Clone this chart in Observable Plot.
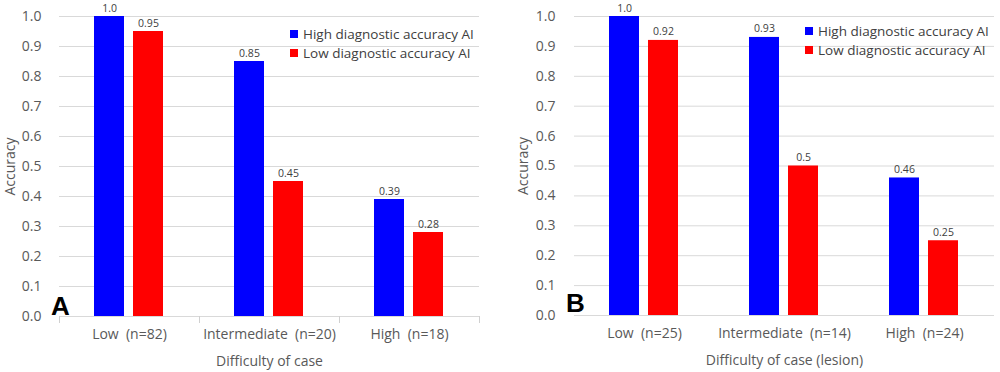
<!DOCTYPE html>
<html>
<head>
<meta charset="utf-8">
<script src="https://cdn.jsdelivr.net/npm/d3@7"></script>
<script src="https://cdn.jsdelivr.net/npm/@observablehq/plot@0.6"></script>
<style>
  body { margin: 0; background: #fff; }
  #row { display: flex; width: 1000px; height: 372px; }
  .panel { position: relative; width: 500px; height: 372px; }
  .panel svg text { white-space: pre; }
  .legend { position: absolute; font-family: "Open Sans", sans-serif; font-size: 13.5px; color: #404040; }
  .legend div { display: flex; align-items: center; height: 19px; white-space: nowrap; }
  .legend span.sw { display: inline-block; width: 8px; height: 8px; margin-right: 5px; }
  .letter { position: absolute; font-family: "Liberation Sans", Arial, sans-serif; font-weight: bold; font-size: 26px; color: #000; line-height: 1; }
</style>
</head>
<body>
<div id="row"></div>
<script>
const series = ["High diagnostic accuracy AI", "Low diagnostic accuracy AI"];
const colors = ["#0000ff", "#ff0000"];

const categoriesA = ["Low  (n=82)", "Intermediate  (n=20)", "High  (n=18)"];
const highA = [1.0, 0.85, 0.39];
const lowA = [0.95, 0.45, 0.28];

const categoriesB = ["Low  (n=25)", "Intermediate  (n=14)", "High  (n=24)"];
const highB = [1.0, 0.93, 0.46];
const lowB = [0.92, 0.5, 0.25];

const yTicks = [0, 0.1, 0.2, 0.3, 0.4, 0.5, 0.6, 0.7, 0.8, 0.9, 1.0];

function rows(categories, high, low) {
  const out = [];
  categories.forEach((c, i) => {
    out.push({cat: c, series: series[0], value: high[i]});
    out.push({cat: c, series: series[1], value: low[i]});
  });
  return out;
}
const fmt = v => v === 1 ? "1.0" : String(v);

function makePanel(cfg) {
  const data = rows(cfg.categories, cfg.high, cfg.low);
  const marks = [
    Plot.gridY(yTicks, {stroke: "#d9d9d9", strokeOpacity: 1}),
    Plot.barY(data, {fx: "cat", x: "series", y: "value", fill: "series"}),
    Plot.text(data, {fx: "cat", x: "series", y: "value", text: d => fmt(d.value), lineAnchor: "bottom", dy: -5, fontSize: 10.5, fill: "#404040"})
  ];
  if (cfg.ticks) {
    marks.push(Plot.frame({anchor: "left", stroke: "#d0d0d0", insetTop: 300, insetBottom: -6}));
    marks.push(Plot.frame({anchor: "right", stroke: "#d0d0d0", insetTop: 300, insetBottom: -6}));
  }
  const plot = Plot.plot({
    width: 500,
    height: 372,
    marginTop: 16,
    marginBottom: cfg.marginBottom,
    marginLeft: cfg.marginLeft,
    marginRight: cfg.marginRight,
    style: {fontFamily: "Open Sans, sans-serif", fontSize: "14px", color: "#595959", background: "#fff"},
    fx: {domain: cfg.categories, padding: 0, axis: "bottom", tickSize: 0, tickPadding: 13, label: cfg.xlabel, labelAnchor: "center", labelOffset: 49},
    x: {domain: series, axis: null, paddingInner: 0.225, paddingOuter: 0.875},
    y: {domain: [0, 1], ticks: yTicks, tickFormat: ".1f", tickSize: 0, tickPadding: cfg.tickPadding, label: "Accuracy", labelAnchor: "center", labelArrow: "none", labelOffset: cfg.labelOffset},
    color: {domain: series, range: colors},
    marks
  });
  const div = document.createElement("div");
  div.className = "panel";
  div.appendChild(plot);
  const leg = document.createElement("div");
  leg.className = "legend";
  leg.style.left = cfg.legendX + "px";
  leg.style.top = cfg.legendY + "px";
  series.forEach((s, i) => {
    const r = document.createElement("div");
    const sw = document.createElement("span");
    sw.className = "sw";
    sw.style.background = colors[i];
    r.appendChild(sw);
    r.appendChild(document.createTextNode(s));
    leg.appendChild(r);
  });
  div.appendChild(leg);
  const letter = document.createElement("div");
  letter.className = "letter";
  letter.textContent = cfg.letter;
  letter.style.left = cfg.letterX + "px";
  letter.style.top = cfg.letterY + "px";
  div.appendChild(letter);
  document.getElementById("row").appendChild(div);
}

makePanel({categories: categoriesA, high: highA, low: lowA, xlabel: "Difficulty of case",
  marginLeft: 58, marginRight: 20, marginBottom: 56, tickPadding: 18, labelOffset: 54, ticks: true,
  legendX: 290, legendY: 24, letter: "A", letterX: 51, letterY: 293});
makePanel({categories: categoriesB, high: highB, low: lowB, xlabel: "Difficulty of case (lesion)",
  marginLeft: 74, marginRight: 6, marginBottom: 57, tickPadding: 19, labelOffset: 56, ticks: false,
  legendX: 305, legendY: 21, letter: "B", letterX: 66, letterY: 290});
</script>
</body>
</html>
